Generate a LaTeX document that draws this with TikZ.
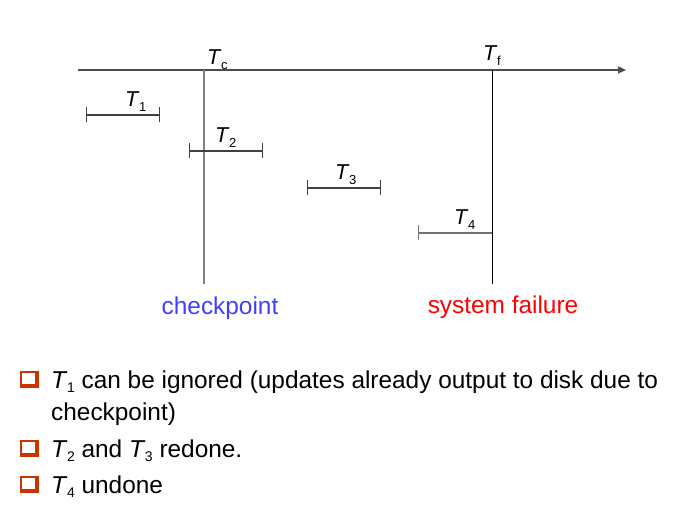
\documentclass[tikz,border=0pt]{standalone}
\usepackage{fontspec}
\setmainfont{Liberation Sans}
\usetikzlibrary{arrows.meta}
\definecolor{cpblue}{RGB}{64,64,255}
\definecolor{failred}{RGB}{255,0,0}
\definecolor{boxred}{RGB}{204,51,0}
\newcommand{\tlab}[1]{\textit{T}\kern-0.5pt\raisebox{-5pt}{\fontsize{13}{13}\selectfont #1}}
\newcommand{\tbul}[1]{\textit{T}\kern-0.5pt\raisebox{-4pt}{\fontsize{14}{14}\selectfont #1}}
\begin{document}
\begin{tikzpicture}[x=1pt,y=-1pt]
        % Styles
        \tikzstyle{time axis}=[draw=black!70,line width=1.2pt,-{Triangle[length=8pt,width=7pt]}]
        \tikzstyle{check line}=[draw=black!50,line width=2.2pt]
        \tikzstyle{fail line}=[draw=black,line width=1pt]
        \tikzstyle{txn}=[draw=black!75,line width=1.6pt,{Bar[width=15pt,line width=1.2pt]}-{Bar[width=15pt,line width=1.2pt]}]
        \tikzstyle{open txn}=[draw=black!55,line width=2.6pt,{Bar[width=15pt,line width=1.2pt]}-]
        \tikzstyle{lab}=[inner sep=0pt,anchor=base west,font=\fontsize{21.5}{25}\selectfont]
        \tikzstyle{big text}=[inner sep=0pt,font=\fontsize{24.4}{29}\selectfont]
        \useasboundingbox (0,0) rectangle (690,518);
        %The graphic
        %axis
        \coordinate (start) at (78,70);
        \coordinate (end) at (626,70);
        \coordinate (tc) at (204,70);
        \coordinate (tc low) at (204,284);
        \coordinate (tf) at (492,70);
        \coordinate (tf low) at (492,284);
        \draw[time axis] (start) -- (end);
        \draw[check line] (tc) -- (tc low);
        \draw[fail line] (tf) -- (tf low);
        \node[lab] (tc label) at (207,65) {\tlab{c}};
        \node[lab] (tf label) at (483,61) {\tlab{f}};
        %transactions
        \foreach \n/\xa/\xb/\y/\xl in {1/86/160/115/125, 2/189/263/151/215, 3/307/381/188/335}{
            \coordinate (t\n a) at (\xa,\y);
            \coordinate (t\n b) at (\xb,\y);
            \draw[txn] (t\n a) -- (t\n b);
            \node[lab] (t\n label) at (\xl,\y-8) {\tlab{\n}};
        }
        \coordinate (t4a) at (418,233);
        \coordinate (t4b) at (492,233);
        \draw[open txn] (t4a) -- (t4b);
        \node[lab] (t4 label) at (454,225) {\tlab{4}};
        %captions
        \node[big text,anchor=base,text=cpblue] (checkpoint) at (220,314) {checkpoint};
        \node[big text,anchor=base,text=failred] (failure) at (503,313) {system failure};
        %bullets
        \foreach \yb in {388,457,493}{
            \fill[boxred] (20,\yb-17) rectangle (39,\yb);
            \fill[white] (22,\yb-15) rectangle (35,\yb-4);
        }
        \node[big text,anchor=base west] (line one) at (51,388) {\tbul{1} can be ignored (updates already output to disk due to};
        \node[big text,anchor=base west] (line two) at (51,420) {checkpoint)};
        \node[big text,anchor=base west] (line three) at (51,457) {\tbul{2} and \tbul{3} redone.};
        \node[big text,anchor=base west] (line four) at (51,493) {\tbul{4} undone};
\end{tikzpicture}
\end{document}
